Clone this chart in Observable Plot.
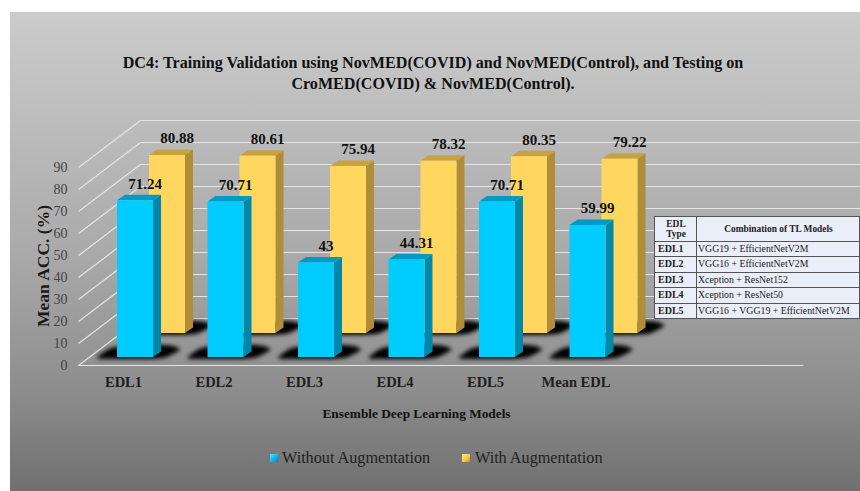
<!DOCTYPE html>
<html>
<head>
<meta charset="utf-8">
<script src="https://cdn.jsdelivr.net/npm/d3@7"></script>
<script src="https://cdn.jsdelivr.net/npm/@observablehq/plot@0.6"></script>
<style>
html,body{margin:0;padding:0;background:#fff;overflow:hidden}
#frame{position:relative;width:860px;height:491px;overflow:hidden;font-family:"Liberation Serif",serif}
#panel{position:absolute;left:10px;top:12px;right:0;bottom:0;background:linear-gradient(#cbcbcb 0%,#bdbdbd 22%,#aaaaaa 50%,#8e8e8e 78%,#707070 100%)}
#title{position:absolute;left:10px;width:846px;top:52px;text-align:center;font-weight:bold;font-size:16.1px;line-height:21px;color:#111;white-space:pre-line}
#chart{position:absolute;left:0;top:100px}
#chart svg{background:transparent;display:block}
#legend{position:absolute;top:448px;left:0;font-size:16.2px;color:#222;line-height:20px;white-space:nowrap}
#legend span.i{position:absolute;top:0}
#legend b{position:absolute;top:6px;width:8px;height:8px;display:block}
#tl{position:absolute;left:654px;top:216px;width:206px;height:103px;border-collapse:collapse;background:#e9eef8;font-size:9.8px;color:#222;table-layout:fixed}
#tl td,#tl th{border:1px solid #555;padding:0 0 0 1px;line-height:10.5px;white-space:nowrap;overflow:hidden}
#tl th{text-align:center;font-size:9.4px}
#tl td.k{font-weight:bold;padding-left:3px;font-size:10px}
</style>
</head>
<body>
<div id="frame">
  <div id="panel"></div>
  <div id="title"></div>
  <div id="chart"></div>
  <div id="legend"></div>
</div>
<script>
const titleLines = ["DC4: Training Validation using NovMED(COVID)  and NovMED(Control), and Testing on", "CroMED(COVID) & NovMED(Control)."];
const categories = ["EDL1", "EDL2", "EDL3", "EDL4", "EDL5", "Mean EDL"];
const withoutAug = [71.24, 70.71, 43, 44.31, 70.71, 59.99];
const withAug = [80.88, 80.61, 75.94, 78.32, 80.35, 79.22];
const yTicks = [0, 10, 20, 30, 40, 50, 60, 70, 80, 90];
const tableKeys = ["EDL1", "EDL2", "EDL3", "EDL4", "EDL5"];
const tableModels = ["VGG19 + EfficientNetV2M", "VGG16 + EfficientNetV2M", "Xception + ResNet152", "Xception + ResNet50", "VGG16 + VGG19  + EfficientNetV2M"];
const seriesNames = ["Without Augmentation", "With Augmentation"];

document.getElementById("title").textContent = titleLines.join("\n");

// px-per-unit of both scales
const PX = 90.5, PY = 2.2;
const ux = p => p / PX, uy = p => p / PY;
const W = 860, H = 325, ML = 78, MB = 60;
const axisPageY = 265;               // y=0 inside the svg

// wall depth of the 3D box
const wallX = ux(62), wallY = uy(47);
const endX = ux(W - ML), floorEnd = ux(803 - ML);

// bar geometry
const barW = ux(36), sideX = ux(8), sideY = uy(5.5);
const series = [
  {name: seriesNames[1], values: withAug,   x0: ux(71),  base: uy(32),   front: "#ffd75e", side: "#b08d38", top: "#c8a240"},
  {name: seriesNames[0], values: withoutAug, x0: ux(39), base: uy(8),    front: "#00ccff", side: "#0087a9", top: "#009ac4"}
];

// shadow outline on the floor: [x offset, lower edge, upper edge] in px from the bar's front-left foot
const shadowOutline = [[-20, -1, 0], [-16, -2, 3], [-6, -2, 9], [8, -2, 11], [30, -2, 12], [46, -1, 12], [56, 3, 11], [63, 7, 8]];

function faces(s) {
  const shadow = [], side = [], top = [], front = [];
  s.values.forEach((v, i) => {
    const L = i + s.x0, R = L + barW, id = i, yv = v + s.base;
    shadowOutline.forEach(([dx, a, b]) =>
      shadow.push({id, x: L + ux(dx), lo: s.base + uy(a), hi: s.base + uy(b)}));
    side.push({id, x: R, lo: s.base, hi: yv}, {id, x: R + sideX, lo: s.base + sideY, hi: yv + sideY});
    top.push({id, x: L, lo: yv, hi: yv}, {id, x: L + sideX, lo: yv, hi: yv + sideY},
             {id, x: R, lo: yv, hi: yv + sideY}, {id, x: R + sideX, lo: yv + sideY, hi: yv + sideY});
    front.push({x1: L, x2: R, y1: s.base, y2: yv});
  });
  return [
    Plot.areaY(shadow, {x: "x", y1: "lo", y2: "hi", z: "id", fill: "#000", curve: "monotone-x", imageFilter: "blur(2.2px)"}),
    Plot.areaY(side, {x: "x", y1: "lo", y2: "hi", z: "id", fill: s.side}),
    Plot.areaY(top, {x: "x", y1: "lo", y2: "hi", z: "id", fill: s.top}),
    Plot.rect(front, {x1: "x1", x2: "x2", y1: "y1", y2: "y2", fill: s.front})
  ];
}
function barLabels(s) {
  return Plot.text(s.values, {
    x: (v, i) => i + s.x0 + ux(27.5),
    y: v => v + s.base + uy(17),
    text: v => String(v),
    fontSize: 15, fontWeight: "bold", fill: "#111", fontFamily: "Liberation Serif"
  });
}

const gridColor = "#e4e4e4";
const plot = Plot.plot({
  width: W, height: H,
  marginLeft: ML, marginRight: 0, marginTop: 0, marginBottom: MB,
  style: {background: "transparent", fontFamily: "Liberation Serif"},
  x: {type: "linear", domain: [0, endX], range: [ML, W]},
  y: {type: "linear", domain: [0, uy(axisPageY)], range: [axisPageY, 0]},
  marks: [
    Plot.link(yTicks, {x1: 0, y1: d => d, x2: wallX, y2: d => d + wallY, stroke: gridColor, strokeWidth: 1.2}),
    Plot.link(yTicks, {x1: wallX, y1: d => d + wallY, x2: endX, y2: d => d + wallY, stroke: gridColor, strokeWidth: 1.2}),
    Plot.link([0], {x1: 0, y1: 0, x2: floorEnd, y2: 0, stroke: gridColor, strokeWidth: 1.2}),
    ...faces(series[0]),
    ...faces(series[1]),
    barLabels(series[0]),
    barLabels(series[1]),
    Plot.axisY({ticks: yTicks, tickSize: 0, tickPadding: 11, fontSize: 14, color: "#444", label: null, anchor: "left", fontFamily: "Liberation Serif"}),
    Plot.axisX({
      ticks: categories.map((c, i) => i + ux(45)), tickSize: 0, tickPadding: 11,
      tickFormat: v => categories[Math.round(v - ux(45))],
      fontSize: 14.5, fontWeight: "bold", color: "#1e1e1e", label: null, anchor: "bottom", fontFamily: "Liberation Serif"
    }),
    Plot.text(["Mean ACC. (%)"], {x: ux(43 - ML), y: uy(99.5), text: d => d, rotate: -90, fontSize: 17.5, fontWeight: "bold", fill: "#1a1a1a", fontFamily: "Liberation Serif"}),
    Plot.text(["Ensemble Deep Learning Models"], {x: ux(416 - ML), y: uy(-48), text: d => d, fontSize: 13.3, fontWeight: "bold", fill: "#111", fontFamily: "Liberation Serif"})
  ]
});
document.getElementById("chart").appendChild(plot);

// TL model table
const tb = document.createElement("table");
tb.id = "tl";
tb.innerHTML = `<colgroup><col style="width:42px"><col></colgroup>
<tr style="height:25px"><th>EDL<br>Type</th><th>Combination of TL Models</th></tr>` +
  tableKeys.map((k, i) => `<tr><td class="k">${k}</td><td>${tableModels[i]}</td></tr>`).join("");
document.getElementById("frame").appendChild(tb);

// legend
const lg = document.getElementById("legend");
const lgSpec = [
  {x: 270, tx: 282, g: "linear-gradient(135deg,#5fe3ff,#00b4e6 60%,#0088aa)", t: seriesNames[0]},
  {x: 462, tx: 475, g: "linear-gradient(135deg,#ffe58a,#f5c542 60%,#b08d38)", t: seriesNames[1]}
];
lgSpec.forEach(s => {
  const b = document.createElement("b");
  b.style.left = s.x + "px"; b.style.background = s.g;
  const sp = document.createElement("span");
  sp.className = "i"; sp.style.left = s.tx + "px"; sp.textContent = s.t;
  lg.append(b, sp);
});
</script>
</body>
</html>
